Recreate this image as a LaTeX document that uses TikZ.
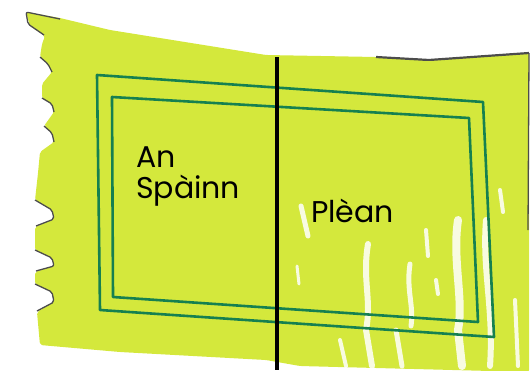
\documentclass[tikz,border=0pt]{standalone}
\usepackage{fontspec}
\newfontfamily\handfont{Poppins}
\definecolor{paper}{RGB}{212,232,60}
\definecolor{ink}{RGB}{22,128,80}
\tikzset{
  frame/.style={ink, line width=2.6pt, line join=round},
  streak/.style={white, line cap=round, opacity=0.85},
  tear/.style={black!70, line width=1.3pt, line join=round, rounded corners=2pt},
  place/.style={font=\handfont\fontsize{30}{31}\selectfont, anchor=base west, inner sep=0pt, align=left}
}
\begin{document}
\begin{tikzpicture}[x=1pt,y=-1pt]
        \useasboundingbox (0,0) rectangle (532,370);
        % paper
        \fill[paper, rounded corners=2pt] (26,12) -- (60,18) -- (110,30) -- (266,55) -- (376,57) -- (429,60) -- (529,53) -- (529,372) -- (300,366) -- (266,360) -- (120,352) -- (40,345)
          -- (37,312) -- (54,302) -- (52,292) -- (35,284) -- (35,272) -- (54,266) -- (52,258) -- (35,250) -- (35,227) -- (54,219) -- (52,210) -- (35,200)
          -- (38,173) -- (40,152) -- (54,142) -- (52,133) -- (44,126) -- (54,112) -- (52,104) -- (42,98) -- (42,84) -- (52,72) -- (48,64) -- (40,57) -- (42,44) -- (45,36) -- (30,26) -- cycle;
        % torn edges
        \draw[tear] (60,19) -- (26,12) -- (28,24) -- (44,35);
        \draw[tear] (35,200) -- (52,210) -- (54,219) -- (36,226);\draw[tear] (35,250) -- (52,258) -- (54,266) -- (36,271);\draw[tear] (35,284) -- (52,292) -- (54,302) -- (37,311);
        \draw[tear] (40,57) -- (48,64) -- (52,72);\draw[tear] (42,98) -- (52,104) -- (54,112);\draw[tear] (44,126) -- (52,133) -- (54,142);
        \draw[tear, line width=2.2pt] (376,57) -- (429,60) -- (529,53);\draw[tear] (529,53) -- (528,230);
        % streaks
        \draw[streak, line width=5pt] (301,206) -- (308,236);\draw[streak, line width=3pt] (297,266) -- (299,284);
        \draw[streak, line width=6pt] (368,244) .. controls (362,280) and (372,300) .. (366,330) -- (372,366);
        \draw[streak, line width=5pt] (410,264) .. controls (406,290) and (414,305) .. (411,326);\draw[streak, line width=4pt] (426,230) -- (428,256);
        \draw[streak, line width=4pt] (436,280) -- (438,294);\draw[streak, line width=5pt] (396,330) -- (402,366);
        \draw[streak, line width=8pt] (458,220) .. controls (452,260) and (464,300) .. (458,330) -- (462,366);
        \draw[streak, line width=6pt] (486,220) .. controls (482,270) and (494,310) .. (490,366);\draw[streak, line width=4pt] (500,190) -- (503,212);
        \draw[streak, line width=4pt] (340,340) -- (346,366);\draw[streak, line width=4pt] (515,300) -- (518,366);
        % frames
        \draw[frame] (97,75) -- (483,102) -- (494,337) -- (100,310) -- cycle;
        \draw[frame] (112,97) -- (469,118) -- (478,322) -- (113,297) -- cycle;
        % middle line
        \coordinate (cuttop) at (277,57);\coordinate (cutbot) at (277,370);
        \draw[line width=4pt] (cuttop) -- (cutbot);
        % places
        \node[place] (spain) at (136,198) {An\\Spàinn};
        \node[place] (plane) at (311,222) {Plèan};
\end{tikzpicture}
\end{document}
